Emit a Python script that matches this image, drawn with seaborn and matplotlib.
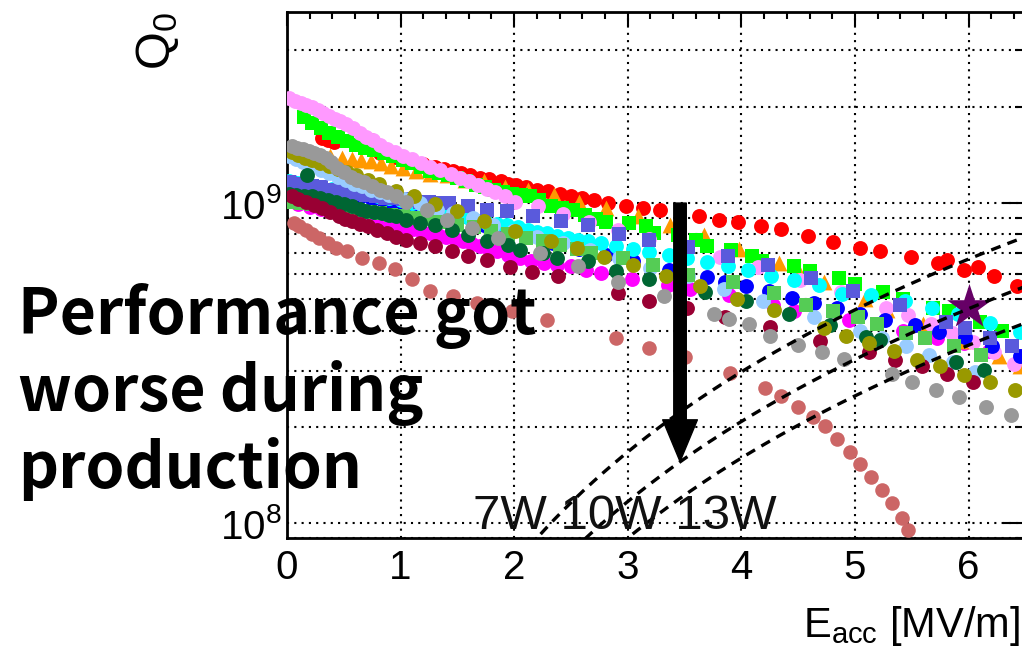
import matplotlib
matplotlib.use("Agg")
import matplotlib.pyplot as plt
import matplotlib.ticker as mticker
import numpy as np
import seaborn as sns

sns.set_style("white")
plt.rcParams.update({
    "font.family": ["Liberation Sans", "DejaVu Sans"],
    "mathtext.fontset": "custom",
    "mathtext.rm": "Liberation Sans",
    "mathtext.it": "Liberation Sans:italic",
    "mathtext.default": "regular",
    "text.color": "black",
    "axes.labelcolor": "black",
    "xtick.color": "black",
    "ytick.color": "black",
})

# Q0 values below are in units of 1e9, Eacc in MV/m
e_pink = [0.02, 0.07, 0.12, 0.17, 0.22, 0.27, 0.32, 0.37, 0.42, 0.47, 0.52, 0.58, 0.64, 0.70, 0.76, 0.82,
          0.88, 0.95, 1.02, 1.10, 1.18, 1.26, 1.35, 1.44, 1.52, 1.60, 1.68, 1.76, 1.83, 1.92, 2.01, 2.21,
          2.43, 2.66, 2.91, 3.19, 3.81, 4.15, 4.52, 4.88, 5.27, 5.47, 5.67, 5.85, 6.04, 6.22, 6.40]
q_pink = [2.13, 2.09, 2.05, 2.02, 1.99, 1.95, 1.91, 1.87, 1.83, 1.80, 1.76, 1.71, 1.66, 1.61, 1.57, 1.52,
          1.48, 1.44, 1.40, 1.37, 1.33, 1.30, 1.27, 1.23, 1.20, 1.17, 1.14, 1.11, 1.08, 1.05, 1.01, 0.98,
          0.925, 0.872, 0.822, 0.771, 0.677, 0.63, 0.574, 0.526, 0.472, 0.446, 0.418, 0.394, 0.369, 0.344, 0.315]

e_green = [0.15, 0.22, 0.30, 0.37, 0.45, 0.53, 0.61, 0.69, 0.77, 0.85, 0.93, 1.02, 1.10, 1.18, 1.26, 1.34,
           1.42, 1.50, 1.58, 1.66, 1.74, 1.82, 1.90, 1.98, 2.06, 2.14, 2.22, 2.32, 2.42, 2.52, 2.62, 2.72,
           2.81, 3.01, 3.16, 3.23, 3.44, 3.60, 3.70, 3.91, 4.09, 4.18, 4.46, 4.60, 4.86, 5.00, 5.25, 5.42,
           5.69, 5.83, 6.10, 6.29]
q_green = [1.85, 1.78, 1.71, 1.66, 1.61, 1.56, 1.52, 1.49, 1.46, 1.43, 1.40, 1.36, 1.33, 1.30, 1.26, 1.24,
           1.22, 1.20, 1.17, 1.14, 1.12, 1.10, 1.08, 1.07, 1.06, 1.05, 1.02, 0.98, 0.965, 0.95, 0.92, 0.895,
           0.872, 0.865, 0.847, 0.805, 0.794, 0.766, 0.733, 0.713, 0.682, 0.658, 0.635, 0.612, 0.582, 0.557,
           0.529, 0.503, 0.469, 0.459, 0.426, 0.40]

e_red = [0.31, 0.36, 0.41, 0.74, 0.82, 0.95, 1.08, 1.20, 1.30, 1.38, 1.46, 1.53, 1.61, 1.70, 1.78, 1.88,
         1.95, 2.02, 2.10, 2.20, 2.30, 2.40, 2.50, 2.60, 2.70, 2.83, 2.98, 3.13, 3.28, 3.63, 3.80, 3.97,
         4.17, 4.35, 4.59, 4.81, 5.04, 5.22, 5.49, 5.73, 5.81, 5.96, 6.08, 6.22, 6.43]
q_red = [1.60, 1.57, 1.55, 1.57, 1.43, 1.39, 1.35, 1.32, 1.30, 1.28, 1.26, 1.24, 1.22, 1.20, 1.19, 1.17,
         1.15, 1.14, 1.12, 1.10, 1.09, 1.07, 1.05, 1.04, 1.02, 1.00, 0.98, 0.965, 0.95, 0.91, 0.885, 0.872,
         0.847, 0.829, 0.788, 0.755, 0.723, 0.707, 0.677, 0.649, 0.662, 0.617, 0.63, 0.594, 0.55]

e_orange = [0.27, 0.38, 0.48, 0.57, 0.65, 0.74, 0.83, 0.92, 1.02, 1.14, 1.26, 1.41, 1.57, 1.73, 1.92, 2.12,
            2.35, 2.57, 2.81, 3.09, 3.37, 3.67, 3.98, 4.33, 4.50, 4.73, 5.09, 5.28, 5.60, 5.95, 6.27, 6.45]
q_orange = [1.41, 1.40, 1.38, 1.37, 1.36, 1.35, 1.33, 1.31, 1.29, 1.26, 1.23, 1.22, 1.18, 1.17, 1.12, 1.10,
            1.06, 1.01, 0.964, 0.91, 0.853, 0.794, 0.718, 0.649, 0.616, 0.569, 0.503, 0.462, 0.42, 0.37,
            0.334, 0.309]

e_gray = [0.04, 0.09, 0.14, 0.19, 0.24, 0.29, 0.34, 0.39, 0.44, 0.50, 0.56, 0.62, 0.68, 0.75, 0.82, 0.88,
          0.96, 1.05, 1.23, 1.41, 1.63, 1.86, 2.23, 2.56, 2.91, 3.32, 3.76, 3.89, 4.07, 4.25, 4.50, 4.71,
          4.90, 5.33, 5.50, 5.71, 5.92, 6.15, 6.37]
q_gray = [1.51, 1.49, 1.47, 1.45, 1.43, 1.41, 1.38, 1.34, 1.29, 1.25, 1.21, 1.18, 1.16, 1.13, 1.10, 1.08,
          1.05, 1.01, 0.95, 0.885, 0.835, 0.777, 0.697, 0.635, 0.569, 0.511, 0.452, 0.436, 0.418, 0.385,
          0.361, 0.344, 0.327, 0.293, 0.277, 0.261, 0.248, 0.231, 0.218]

e_olive = [0.04, 0.10, 0.16, 0.22, 0.29, 0.37, 0.45, 0.53, 0.61, 0.71, 0.81, 0.96, 1.12, 1.30, 1.50, 1.73,
           2.01, 2.32, 2.55, 2.79, 3.05, 3.34, 3.64, 3.96, 4.29, 4.73, 4.92, 5.12, 5.34, 5.55, 5.75, 5.96,
           6.19, 6.41]
q_olive = [1.44, 1.41, 1.38, 1.36, 1.33, 1.31, 1.28, 1.25, 1.22, 1.18, 1.15, 1.09, 1.05, 0.993, 0.944, 0.879,
           0.817, 0.76, 0.723, 0.677, 0.64, 0.594, 0.549, 0.503, 0.462, 0.406, 0.385, 0.366, 0.346, 0.324,
           0.31, 0.291, 0.277, 0.261]

e_lblue = [0.02, 0.08, 0.14, 0.22, 0.30, 0.37, 0.45, 0.52, 0.59, 0.66, 0.74, 0.82, 0.90, 1.03, 1.17, 1.32,
           1.46, 1.64, 1.81, 1.99, 2.20, 2.43, 2.67, 2.92, 3.20, 3.53, 3.85, 4.19, 4.64, 5.04, 5.24, 5.45,
           5.65, 5.86, 6.06]
q_lblue = [1.40, 1.37, 1.34, 1.31, 1.27, 1.24, 1.21, 1.18, 1.15, 1.13, 1.10, 1.08, 1.06, 1.03, 1.00, 0.95,
           0.931, 0.898, 0.853, 0.817, 0.782, 0.749, 0.713, 0.672, 0.625, 0.59, 0.541, 0.493, 0.442, 0.40,
           0.378, 0.357, 0.336, 0.318, 0.297]

e_cyan = [0.02, 0.10, 0.20, 0.30, 0.40, 0.50, 0.60, 0.70, 0.80, 0.90, 1.00, 1.10, 1.20, 1.30, 1.40, 1.50,
          1.60, 1.68, 1.76, 1.85, 1.94, 2.03, 2.12, 2.20, 2.29, 2.38, 2.47, 2.56, 2.65, 2.76, 2.90, 3.05,
          3.19, 3.36, 3.52, 3.70, 3.88, 4.06, 4.26, 4.46, 4.68, 4.89, 5.14, 5.44, 5.68, 5.91, 6.19, 6.45]
q_cyan = [1.17, 1.155, 1.14, 1.125, 1.11, 1.095, 1.08, 1.065, 1.05, 1.035, 1.02, 1.00, 0.98, 0.96, 0.94, 0.92,
          0.90, 0.88, 0.865, 0.858, 0.853, 0.84, 0.822, 0.813, 0.805, 0.79, 0.777, 0.768, 0.76, 0.75, 0.733,
          0.718, 0.702, 0.687, 0.672, 0.653, 0.635, 0.617, 0.594, 0.574, 0.553, 0.519, 0.515, 0.493, 0.469,
          0.449, 0.421, 0.397]

e_blue = [0.05, 0.15, 0.25, 0.35, 0.45, 0.55, 0.65, 0.75, 0.85, 0.95, 1.05, 1.15, 1.25, 1.35, 1.45, 1.55,
          1.64, 1.73, 1.93, 2.12, 2.34, 2.57, 2.81, 3.05, 3.36, 3.70, 3.86, 4.04, 4.24, 4.45, 4.64, 4.84,
          5.04, 5.26, 5.53, 5.74, 5.97, 6.21, 6.45]
q_blue = [1.16, 1.14, 1.12, 1.10, 1.09, 1.07, 1.05, 1.03, 1.01, 1.00, 0.985, 0.97, 0.955, 0.94, 0.925, 0.91,
          0.885, 0.853, 0.82, 0.788, 0.75, 0.72, 0.687, 0.658, 0.616, 0.586, 0.569, 0.549, 0.53, 0.507,
          0.489, 0.472, 0.452, 0.43, 0.415, 0.397, 0.383, 0.359, 0.334]

e_slate = [0.02, 0.08, 0.15, 0.22, 0.30, 0.38, 0.46, 0.54, 0.62, 0.70, 0.78, 0.86, 0.94, 1.02, 1.10, 1.17,
           1.25, 1.34, 1.43, 1.59, 1.76, 1.94, 2.17, 2.41, 2.65, 2.92, 3.19, 3.53, 3.88, 4.23, 4.61, 4.98,
           5.40, 5.80, 5.97, 6.19, 6.38]
q_slate = [1.16, 1.15, 1.14, 1.13, 1.12, 1.10, 1.09, 1.08, 1.07, 1.06, 1.05, 1.04, 1.035, 1.03, 1.02, 1.01,
           1.005, 1.00, 1.00, 0.98, 0.95, 0.944, 0.91, 0.879, 0.853, 0.80, 0.766, 0.728, 0.682, 0.64, 0.582,
           0.53, 0.479, 0.426, 0.408, 0.38, 0.357]

e_dgreen = [0.18, 0.02, 0.08, 0.15, 0.22, 0.29, 0.36, 0.43, 0.50, 0.57, 0.64, 0.70, 0.77, 0.84, 0.90, 0.96,
            1.05, 1.17, 1.30, 1.45, 1.59, 1.76, 1.95, 2.05, 2.25, 2.38, 2.65, 2.90, 3.19, 3.68, 4.04, 4.42,
            4.78, 5.10, 5.22, 5.89, 6.14]
q_dgreen = [1.22, 1.07, 1.06, 1.055, 1.05, 1.035, 1.02, 1.01, 0.995, 0.98, 0.96, 0.944, 0.94, 0.931, 0.92,
            0.91, 0.885, 0.865, 0.853, 0.822, 0.794, 0.76, 0.738, 0.713, 0.697, 0.672, 0.658, 0.612, 0.578,
            0.526, 0.493, 0.449, 0.415, 0.383, 0.375, 0.318, 0.302]

e_mgreen = [0.02, 0.12, 0.22, 0.32, 0.42, 0.52, 0.62, 0.72, 0.82, 0.92, 1.02, 1.12, 1.22, 1.35, 1.50, 1.65,
            1.80, 1.95, 2.10, 2.25, 2.40, 2.55, 2.68, 2.96, 3.22, 3.53, 3.93, 4.29, 4.57, 4.81, 5.03, 5.19,
            5.45, 5.62, 5.87, 6.11]
q_mgreen = [1.01, 1.00, 0.99, 0.98, 0.97, 0.96, 0.95, 0.94, 0.93, 0.92, 0.91, 0.90, 0.89, 0.87, 0.853, 0.84,
            0.82, 0.80, 0.78, 0.76, 0.74, 0.72, 0.70, 0.672, 0.64, 0.598, 0.565, 0.522, 0.482, 0.459, 0.44,
            0.418, 0.394, 0.38, 0.359, 0.336]

e_magenta = [0.10, 0.20, 0.30, 0.37, 0.45, 0.52, 0.59, 0.66, 0.74, 0.81, 0.88, 0.96, 1.04, 1.11, 1.18, 1.26,
             1.33, 1.40, 1.48, 1.55, 1.63, 1.70, 1.78, 1.85, 1.95, 2.05, 2.15, 2.26, 2.38, 2.50, 2.63, 2.76,
             3.04, 3.35, 3.55, 3.89, 4.28, 4.46, 4.95, 5.42, 5.72, 5.96, 6.18, 6.46]
q_magenta = [0.99, 0.97, 0.955, 0.944, 0.932, 0.92, 0.91, 0.898, 0.886, 0.875, 0.864, 0.853, 0.84, 0.828,
             0.816, 0.805, 0.794, 0.783, 0.771, 0.76, 0.747, 0.735, 0.721, 0.708, 0.69, 0.672, 0.66, 0.649,
             0.642, 0.635, 0.62, 0.604, 0.578, 0.553, 0.541, 0.515, 0.479, 0.459, 0.43, 0.40, 0.38, 0.366,
             0.346, 0.334]

e_maroon = [0.04, 0.10, 0.17, 0.24, 0.31, 0.38, 0.46, 0.51, 0.57, 0.64, 0.71, 0.79, 0.88, 0.96, 1.05, 1.17,
            1.30, 1.45, 1.59, 1.76, 1.96, 2.16, 2.39, 2.91, 3.19, 3.52, 3.86, 4.25, 4.69, 5.12, 5.35, 5.59,
            5.81, 6.04]
q_maroon = [1.05, 1.03, 1.01, 0.985, 0.964, 0.935, 0.91, 0.895, 0.879, 0.862, 0.847, 0.826, 0.805, 0.785,
            0.766, 0.75, 0.733, 0.708, 0.682, 0.662, 0.63, 0.608, 0.59, 0.522, 0.493, 0.469, 0.442, 0.411,
            0.372, 0.344, 0.324, 0.309, 0.293, 0.277]

e_ired = [0.06, 0.11, 0.17, 0.22, 0.28, 0.36, 0.43, 0.53, 0.66, 0.81, 0.95, 1.10, 1.26, 1.46, 1.67, 1.98,
          2.29, 2.90, 3.19, 3.50, 3.90, 4.21, 4.35, 4.50, 4.63, 4.74, 4.84, 4.96, 5.04, 5.14, 5.24, 5.33,
          5.41, 5.47]
q_ired = [0.865, 0.845, 0.822, 0.80, 0.777, 0.75, 0.723, 0.708, 0.672, 0.649, 0.621, 0.578, 0.533, 0.511,
          0.486, 0.459, 0.43, 0.378, 0.354, 0.331, 0.295, 0.265, 0.25, 0.231, 0.215, 0.201, 0.183, 0.167,
          0.153, 0.140, 0.127, 0.116, 0.104, 0.095]

e_star = [6.0]
q_star = [0.475]

# dissipated-power guide lines: Q0 = G * Eacc^2 / P
G_FACTOR = 1.3e8
powers = [7, 10, 13]
power_labels = "7W 10W 13W"

# draw order: first is bottom
SERIES = [
    ("#cc6666", "o", 110, e_ired, q_ired),
    ("#ff00ff", "o", 115, e_magenta, q_magenta),
    ("#ff0000", "o", 115, e_red, q_red),
    ("#ff9900", "^", 130, e_orange, q_orange),
    ("#00ff00", "s", 100, e_green, q_green),
    ("#ff99ff", "o", 115, e_pink, q_pink),
    ("#0000ff", "o", 115, e_blue, q_blue),
    ("#00ffff", "o", 115, e_cyan, q_cyan),
    ("#5a5adc", "s", 100, e_slate, q_slate),
    ("#99ccff", "o", 115, e_lblue, q_lblue),
    ("#55cc55", "s", 100, e_mgreen, q_mgreen),
    ("#006633", "o", 115, e_dgreen, q_dgreen),
    ("#990033", "o", 115, e_maroon, q_maroon),
    ("#999900", "o", 115, e_olive, q_olive),
    ("#999999", "o", 115, e_gray, q_gray),
    ("#660066", "*", 1150, e_star, q_star),
]

fig = plt.figure(figsize=(10.22, 6.55), dpi=100)
ax = fig.add_axes([0.2808, 0.1786, 0.7225, 0.8031])
ax.set_yscale("log")

for color, marker, size, e, q in SERIES:
    sns.scatterplot(x=e, y=np.array(q) * 1e9, color=color, marker=marker, s=size,
                    linewidth=0, ax=ax, zorder=3, legend=False)

e_line = np.linspace(1.5, 6.6, 300)
for p in powers:
    ax.plot(e_line, G_FACTOR * e_line ** 2 / p, color="black", lw=2.4,
            ls=(0, (3, 2.2)), zorder=4)

ax.text(1.64, 9.6e7, power_labels, fontsize=35.5, color="#111111", va="baseline", zorder=5)

ax.annotate("", xy=(3.46, 1.56e8), xytext=(3.46, 1.0e9),
            arrowprops=dict(facecolor="black", edgecolor="black", width=9,
                            headwidth=25, headlength=30, shrink=0), zorder=6)

ax.set_xlim(0, 6.5)
ax.set_ylim(9.0e7, 3.95e9)

ax.xaxis.set_major_locator(mticker.MultipleLocator(1))
ax.xaxis.set_minor_locator(mticker.MultipleLocator(0.2))
ax.yaxis.set_major_locator(mticker.LogLocator(base=10))
ax.yaxis.set_minor_locator(mticker.LogLocator(base=10, subs=np.arange(2, 10)))
ax.yaxis.set_minor_formatter(mticker.NullFormatter())

ax.grid(which="major", axis="x", color="black", lw=1.5, ls=(0, (1, 2.5)))
ax.grid(which="both", axis="y", color="black", lw=1.5, ls=(0, (1, 2.5)))
ax.set_axisbelow(True)

for s in ax.spines.values():
    s.set_linewidth(2)
    s.set_color("black")

ax.tick_params(which="both", direction="in", top=True, right=True, width=1.5, colors="black")
ax.tick_params(axis="x", which="major", length=10, labelsize=29, pad=8)
ax.tick_params(axis="x", which="minor", length=5)
ax.tick_params(axis="y", which="major", length=16, labelsize=29, pad=4)
ax.tick_params(axis="y", which="minor", length=7)

ax.set_ylabel(r"Q$_0$", fontsize=35, loc="top")
ax.yaxis.set_label_coords(-0.143, 1.0)
ax.set_xlabel(r"E$_{acc}$ [MV/m]", fontsize=30, loc="right")
ax.xaxis.set_label_coords(0.993, -0.125)

fig.text(18 / 1022, 0.568, "Performance got\nworse during\nproduction",
         fontsize=45, fontweight="bold", family=["Noto Sans CJK JP", "DejaVu Sans"],
         va="top", ha="left", linespacing=1.22, zorder=10)

fig.savefig("out.png", dpi=100)
